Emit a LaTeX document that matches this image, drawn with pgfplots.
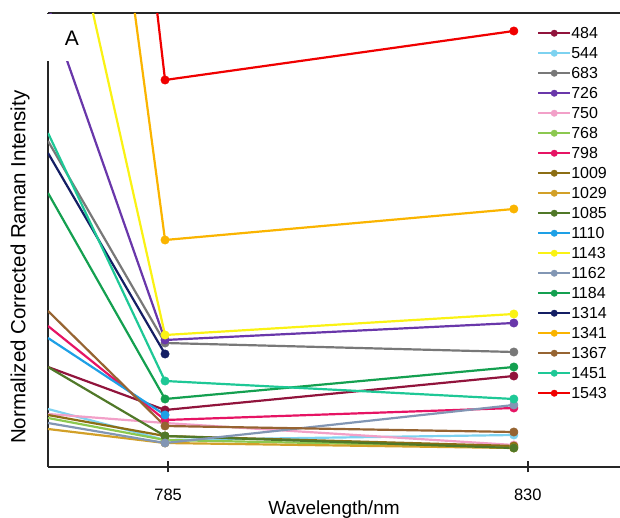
\documentclass[border=0pt]{standalone}
\usepackage{pgfplots}
\pgfplotsset{compat=1.18}
\usepackage{fontspec}
\setmainfont{Liberation Sans}
\definecolor{c484}{RGB}{145,20,60}
\definecolor{c544}{RGB}{125,210,240}
\definecolor{c683}{RGB}{120,120,120}
\definecolor{c726}{RGB}{105,55,170}
\definecolor{c750}{RGB}{242,160,200}
\definecolor{c768}{RGB}{140,200,80}
\definecolor{c798}{RGB}{230,20,100}
\definecolor{c1009}{RGB}{140,110,20}
\definecolor{c1029}{RGB}{210,160,40}
\definecolor{c1085}{RGB}{80,120,40}
\definecolor{c1110}{RGB}{30,160,230}
\definecolor{c1143}{RGB}{250,242,20}
\definecolor{c1162}{RGB}{130,150,180}
\definecolor{c1184}{RGB}{20,160,80}
\definecolor{c1314}{RGB}{20,30,100}
\definecolor{c1341}{RGB}{250,180,0}
\definecolor{c1367}{RGB}{150,100,50}
\definecolor{c1451}{RGB}{30,200,150}
\definecolor{c1543}{RGB}{240,0,0}
\pgfplotsset{ser/.style={color=#1, mark=*, line width=2.2pt, mark size=4.2pt, mark indices={2,3}, mark options={solid, line width=0.5pt}}}
\begin{document}
\begin{tikzpicture}
\useasboundingbox (-48pt,-51pt) rectangle (572pt,467pt);
\begin{axis}[
  at={(0pt,0pt)}, anchor=south west,
  width=572pt, height=454pt, scale only axis,
  xmin=769.9, xmax=843.7, ymin=0, ymax=454,
  axis x line*=box, axis y line*=left,
  axis line style={black!85, line width=1.2pt},
  xtick={785.4,831.8}, xticklabels={785,830},
  xtick pos=left, ytick=\empty,
  tick align=center,
  major tick style={draw=black!85, line width=1.5pt},
  major tick length=11pt,
  /pgf/number format/assume math mode=true,
  xticklabel style={font=\fontsize{16.5}{16.5}\selectfont, anchor=base, yshift=-28pt},
  xlabel={Wavelength/nm},
  xlabel style={font=\fontsize{19}{19}\selectfont, at={(axis description cs:0.5,0)}, anchor=base, yshift=-47.5pt},
  ylabel={Normalized Corrected Raman Intensity},
  ylabel style={font=\fontsize{20.5}{20.5}\selectfont, at={(axis description cs:-0.049,0.44)}, anchor=center},
  legend style={draw=none, fill=none, at={(rel axis cs:0.855,0.968)}, anchor=north west, inner sep=0pt, row sep=9pt,
    font=\fontsize{16}{16}\selectfont, nodes={inner sep=0pt, text height=11pt, text depth=0pt}},
  legend cell align=left,
  legend image code/.code={\draw[mark indices={2}, mark size=3.2pt, line width=2pt] plot coordinates {(0pt,0pt) (16pt,0pt) (32pt,0pt)};},
  clip=true,
]
\addplot[ser=c484] coordinates {(769.9,100) (785,57) (830,91)};
\addplot[ser=c544] coordinates {(769.9,58) (785,27) (830,32)};
\addplot[ser=c683] coordinates {(769.9,326) (785,124) (830,115)};
\addplot[ser=c726] coordinates {(770.2,454) (785,127) (830,144)};
\addplot[ser=c750] coordinates {(769.9,53) (785,44) (830,22)};
\addplot[ser=c768] coordinates {(769.9,49) (785,27) (830,20)};
\addplot[ser=c798] coordinates {(769.9,141) (785,47) (830,59)};
\addplot[ser=c1009] coordinates {(769.9,52) (785,31) (830,21)};
\addplot[ser=c1029] coordinates {(769.9,38) (785,24) (830,19)};
\addplot[ser=c1085] coordinates {(769.9,100) (785,31) (830,19)};
\addplot[ser=c1110] coordinates {(769.9,129) (785,52)};
\addplot[ser=c1143] coordinates {(775.7,454) (785,132) (830,153)};
\addplot[ser=c1162] coordinates {(769.9,44) (785,24) (830,62)};
\addplot[ser=c1184] coordinates {(769.9,274) (785,68) (830,100)};
\addplot[ser=c1314] coordinates {(769.9,314) (785,113)};
\addplot[ser=c1341] coordinates {(781.1,454) (785,227) (830,258)};
\addplot[ser=c1367] coordinates {(769.9,156) (785,41) (830,35)};
\addplot[ser=c1451] coordinates {(769.9,334) (785,86) (830,68)};
\addplot[ser=c1543] coordinates {(784.0,454) (785,387) (830,436)};
\legend{484,544,683,726,750,768,798,1009,1029,1085,1110,1143,1162,1184,1314,1341,1367,1451,1543}
\end{axis}
\fill[white] (-1.5pt,406pt) rectangle (40pt,453.3pt);
\node[font=\fontsize{21}{21}\selectfont] at (24pt,429pt) {A};
\end{tikzpicture}
\end{document}
